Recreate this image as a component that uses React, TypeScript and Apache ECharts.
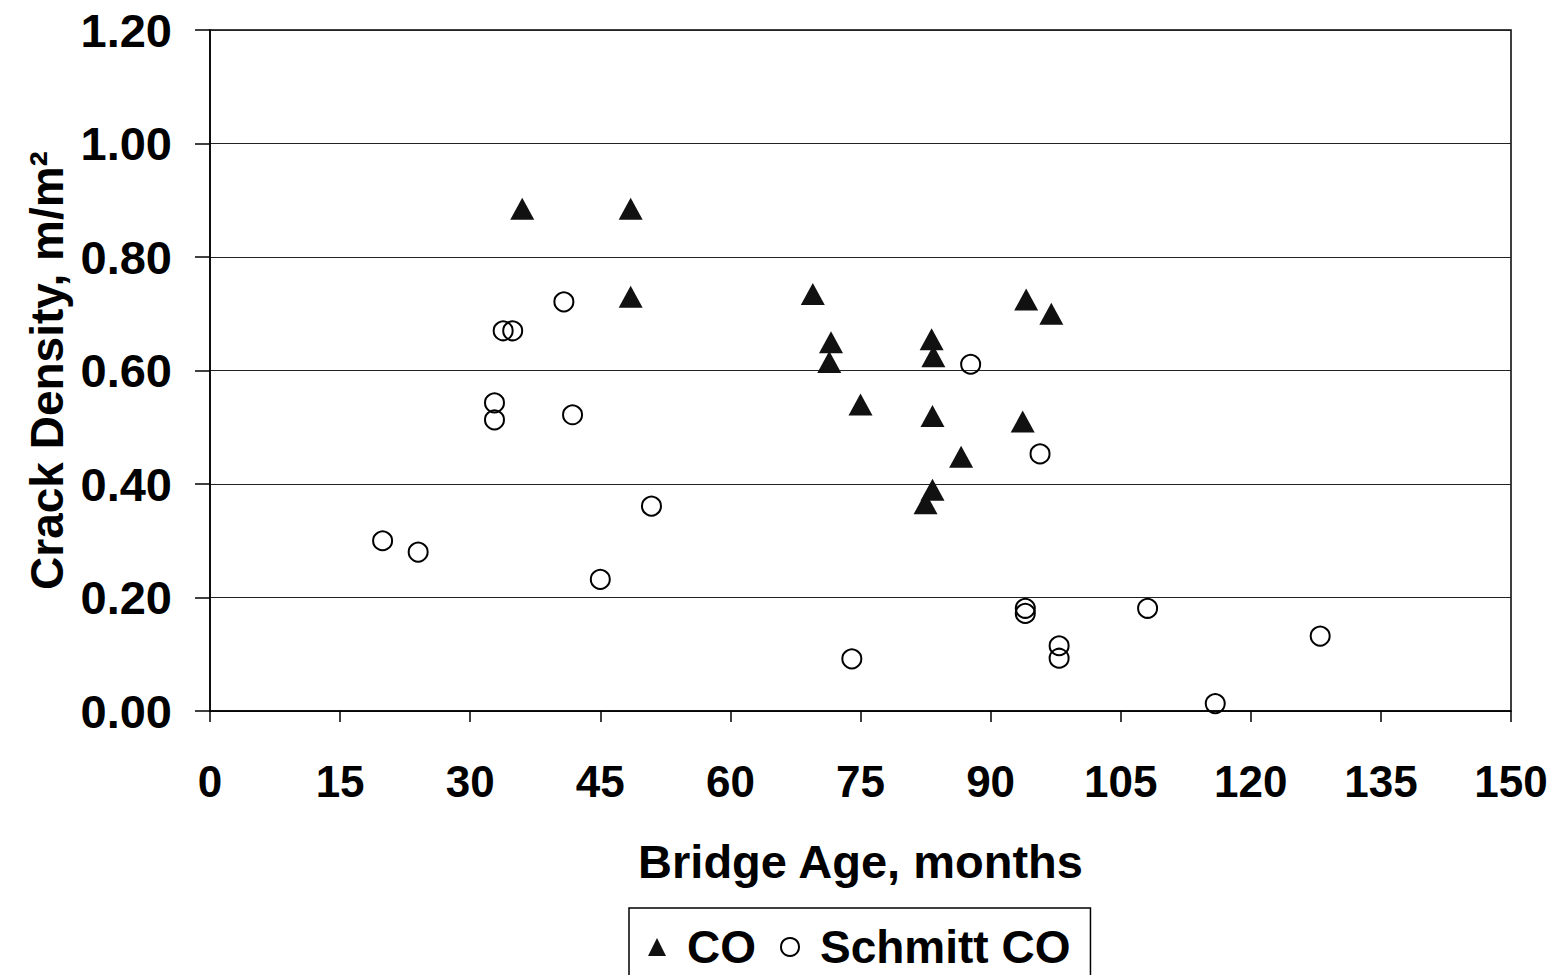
import React, { useEffect, useRef } from "react";
import * as echarts from "echarts";

const xTicks = [0, 15, 30, 45, 60, 75, 90, 105, 120, 135, 150];
const yTicks = [0, 0.2, 0.4, 0.6, 0.8, 1.0, 1.2];

const coAge = [36, 48.5, 48.5, 69.5, 71.6, 71.4, 75.0, 83.2, 83.4, 83.3, 86.6, 94.1, 97.0, 93.7, 83.3, 82.5];
const coDensity = [0.885, 0.885, 0.73, 0.735, 0.65, 0.615, 0.54, 0.655, 0.625, 0.52, 0.448, 0.725, 0.70, 0.51, 0.39, 0.366];

const schmittAge = [19.9, 24.0, 32.8, 32.8, 33.8, 34.9, 40.8, 41.8, 45.0, 50.9, 74.0, 87.7, 95.7, 94.0, 94.0, 97.9, 97.9, 108.1, 115.9, 128.0];
const schmittDensity = [0.30, 0.28, 0.543, 0.513, 0.67, 0.67, 0.721, 0.522, 0.232, 0.361, 0.092, 0.611, 0.453, 0.181, 0.172, 0.115, 0.093, 0.181, 0.013, 0.132];

const FONT = "'Liberation Sans', Arial, Helvetica, sans-serif";

export default function App() {
  const ref = useRef<HTMLDivElement>(null);
  useEffect(() => {
    if (!ref.current) return;
    const chart = echarts.init(ref.current, undefined, { renderer: "svg" });
    const coData = coAge.map((a, i) => [a, coDensity[i]]);
    const schData = schmittAge.map((a, i) => [a, schmittDensity[i]]);
    chart.setOption({
      animation: false,
      backgroundColor: "#fff",
      grid: {
        left: 210,
        right: 52,
        top: 30,
        bottom: 264,
        show: true,
        borderColor: "#000",
        borderWidth: 1.5,
        backgroundColor: "transparent",
      },
      xAxis: {
        type: "value",
        min: xTicks[0],
        max: xTicks[xTicks.length - 1],
        interval: 15,
        name: "Bridge Age, months",
        nameLocation: "middle",
        nameGap: 127,
        nameTextStyle: { fontFamily: FONT, fontWeight: "bold", fontSize: 47, color: "#000" },
        axisLine: { show: true, lineStyle: { color: "#000", width: 1.5 } },
        axisTick: { show: true, inside: false, length: 11, lineStyle: { color: "#000", width: 1.5 } },
        axisLabel: {
          margin: 48,
          fontFamily: FONT,
          fontWeight: "bold",
          fontSize: 44,
          color: "#000",
          formatter: (v: number) => (xTicks.includes(v) ? String(v) : ""),
        },
        splitLine: { show: false },
      },
      yAxis: {
        type: "value",
        min: yTicks[0],
        max: yTicks[yTicks.length - 1],
        interval: 0.2,
        name: "Crack Density, m/m²",
        nameLocation: "middle",
        nameGap: 138,
        nameTextStyle: { fontFamily: FONT, fontWeight: "bold", fontSize: 46, color: "#000" },
        axisLine: { show: true, lineStyle: { color: "#000", width: 1.5 } },
        axisTick: { show: true, inside: false, length: 15, lineStyle: { color: "#000", width: 1.5 } },
        axisLabel: {
          margin: 38,
          fontFamily: FONT,
          fontWeight: "bold",
          fontSize: 47,
          color: "#000",
          formatter: (v: number) => v.toFixed(2),
        },
        splitLine: { show: true, lineStyle: { color: "#222", width: 1.2 } },
      },
      legend: {
        show: true,
        left: 629,
        top: 908,
        orient: "horizontal",
        padding: [16, 20, 16, 19],
        borderColor: "#000",
        borderWidth: 1.5,
        itemWidth: 18,
        itemHeight: 18,
        itemGap: 24,
        textStyle: {
          fontFamily: FONT,
          fontWeight: "bold",
          fontSize: 46,
          color: "#000",
          padding: [0, 0, 0, 16],
        },
        data: ["CO", "Schmitt CO"],
      },
      series: [
        {
          name: "CO",
          type: "scatter",
          symbol: "triangle",
          symbolSize: [24, 22],
          data: coData,
          itemStyle: { color: "#111", opacity: 1 },
          z: 3,
        },
        {
          name: "Schmitt CO",
          type: "scatter",
          symbol: "circle",
          symbolSize: 19,
          data: schData,
          itemStyle: { color: "rgba(255,255,255,0)", borderColor: "#000", borderWidth: 2, opacity: 1 },
          z: 4,
        },
      ],
    });
    return () => chart.dispose();
  }, []);
  return (
    <div
      ref={ref}
      style={{ position: "fixed", left: 0, top: 0, width: 1563, height: 975, background: "#fff" }}
    />
  );
}
